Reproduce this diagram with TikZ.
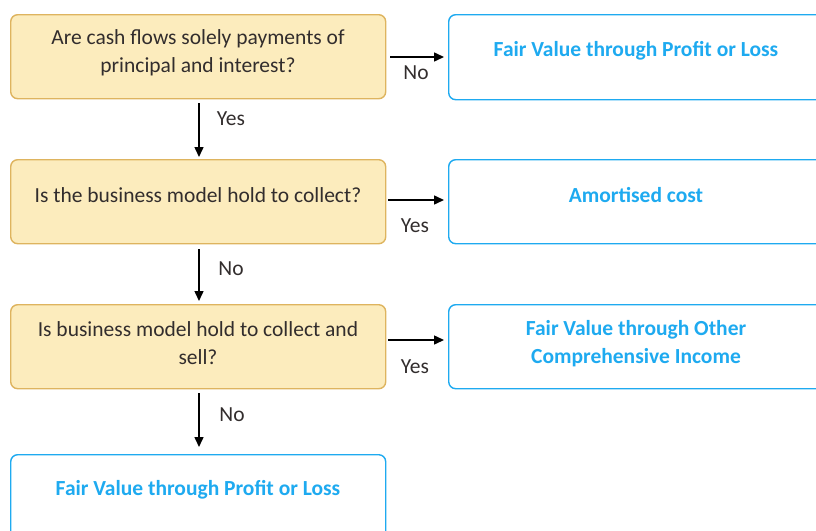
\documentclass[tikz,border=0pt]{standalone}
\usepackage{fontspec}
\setmainfont{Carlito}
\usetikzlibrary{arrows.meta}
\definecolor{qfill}{RGB}{252,236,189}
\definecolor{qborder}{RGB}{222,180,95}
\definecolor{rblue}{RGB}{30,170,240}
\definecolor{qtext}{RGB}{50,45,45}
\begin{document}
\begin{tikzpicture}[x=1pt,y=-1pt,
  qbox/.style={draw=qborder,fill=qfill,line width=1.4pt,rounded corners=7pt,minimum width=375pt,minimum height=84pt,anchor=north west,inner sep=0pt},
  rbox/.style={draw=rblue,fill=white,line width=1.4pt,rounded corners=7pt,anchor=north west,inner sep=0pt},
  qtxt/.style={font=\fontsize{21.5}{28}\selectfont,text=qtext,align=center},
  rtxt/.style={font=\fontsize{21.5}{28}\selectfont\bfseries,text=rblue,align=center},
  lbl/.style={font=\fontsize{21.5}{24}\selectfont,text=qtext},
  arr/.style={-{Triangle[length=10pt,width=9pt]},line width=1.5pt,black}
]
\useasboundingbox (0,0) rectangle (816,530);
\clip (0,0) rectangle (816,530);
% question boxes
\node[qbox] (q1) at (10,14) {};
\node[qbox] (q2) at (10,159) {};
\node[qbox] (q3) at (10,304) {};
% result boxes
\node[rbox,minimum width=380pt,minimum height=85pt] (r1) at (448,14) {};
\node[rbox,minimum width=380pt,minimum height=84pt] (r2) at (448,159) {};
\node[rbox,minimum width=380pt,minimum height=84pt] (r3) at (448,304) {};
\node[rbox,minimum width=375pt,minimum height=90pt] (r4) at (10,454) {};
% texts
\node[qtxt] (t1) at (198,53) {Are cash flows solely payments of\\principal and interest?};
\node[qtxt] (t2) at (198,195) {Is the business model hold to collect?};
\node[qtxt] (t3) at (198,343) {Is business model hold to collect and\\sell?};
\node[rtxt] (s1) at (636,51) {Fair Value through Profit or Loss};
\node[rtxt] (s2) at (636,195) {Amortised cost};
\node[rtxt] (s3) at (636,344) {Fair Value through Other\\Comprehensive Income};
\node[rtxt] (s4) at (198,490) {Fair Value through Profit or Loss};
% connector anchors
\coordinate (a1s) at (390,57); \coordinate (a1e) at (444,57);
\coordinate (a2s) at (388,200); \coordinate (a2e) at (444,200);
\coordinate (a3s) at (388,340); \coordinate (a3e) at (444,340);
\coordinate (v1s) at (199,103); \coordinate (v1e) at (199,157);
\coordinate (v2s) at (199,249); \coordinate (v2e) at (199,301);
\coordinate (v3s) at (199,393); \coordinate (v3e) at (199,447);
\draw[arr] (a1s) -- (a1e);
\draw[arr] (a2s) -- (a2e);
\draw[arr] (a3s) -- (a3e);
\draw[arr] (v1s) -- (v1e);
\draw[arr] (v2s) -- (v2e);
\draw[arr] (v3s) -- (v3e);
% labels
\node[lbl] (l1) at (416,73) {No};
\node[lbl] (l2) at (415,226) {Yes};
\node[lbl] (l3) at (415,367) {Yes};
\node[lbl] (l4) at (231,119) {Yes};
\node[lbl] (l5) at (231,269) {No};
\node[lbl] (l6) at (232,415) {No};
\end{tikzpicture}
\end{document}
